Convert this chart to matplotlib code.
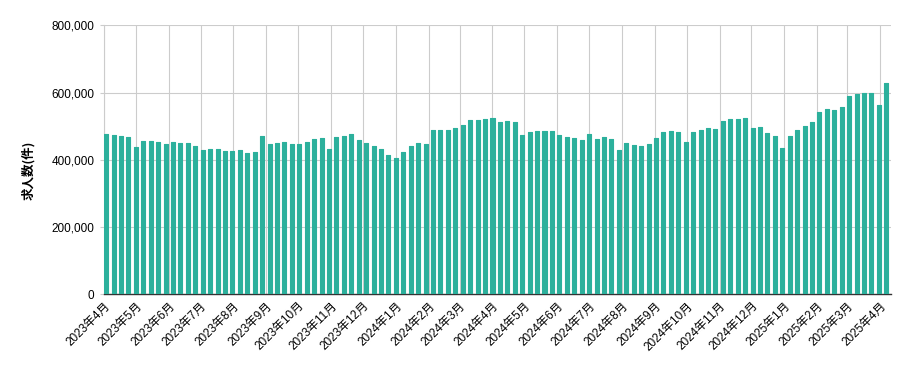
import matplotlib
matplotlib.use("Agg")
import matplotlib.pyplot as plt
from matplotlib.ticker import FuncFormatter
import pandas as pd

plt.rcParams['font.family'] = ['Liberation Sans', 'Noto Sans CJK JP', 'DejaVu Sans']

# ── Data ────────────────────────────────────────────────────────────────
# weekly job-posting counts, one bar per Monday
WEEKS = pd.date_range("2023-04-03", periods=106, freq="7D")
COUNTS = [
    476000, 473000, 470000, 467000, 438000, 456000, 456000, 453000, 447000, 453000,
    450000, 450000, 441000, 429000, 432000, 432000, 426000, 426000, 429000, 420000,
    423000, 470000, 447000, 450000, 453000, 447000, 447000, 453000, 462000, 465000,
    432000, 467000, 470000, 476000, 459000, 450000, 441000, 432000, 414000, 405000,
    423000, 441000, 450000, 447000, 488000, 488000, 488000, 494000, 503000, 518000,
    518000, 521000, 524000, 512000, 515000, 512000, 473000, 482000, 485000, 485000,
    485000, 473000, 467000, 465000, 459000, 476000, 462000, 467000, 462000, 429000,
    450000, 444000, 441000, 447000, 465000, 482000, 485000, 482000, 453000, 482000,
    488000, 494000, 491000, 515000, 521000, 521000, 524000, 494000, 497000, 479000,
    470000, 435000, 470000, 488000, 500000, 512000, 542000, 551000, 548000, 557000,
    591000, 596000, 599000, 599000, 563000, 628000,
]
MONTHS = pd.date_range("2023-04-01", "2025-04-01", freq="MS")
Y_TICKS = [0, 200000, 400000, 600000, 800000]

BAR_COLOR = "#2cb09c"
GRID_COLOR = "#cccccc"

# ── Plot ────────────────────────────────────────────────────────────────
fig = plt.figure(figsize=(9.09, 3.71), dpi=100)
ax = fig.add_axes([0.1144, 0.2067, 0.8653, 0.7251])

ax.bar(WEEKS, COUNTS, width=3.8, color=BAR_COLOR, edgecolor=BAR_COLOR,
       linewidth=0.8, joinstyle="round", zorder=3)

ax.set_xlim(pd.Timestamp("2023-04-01"), pd.Timestamp("2025-04-11"))
ax.set_ylim(0, 800000)

ax.set_xticks(MONTHS)
ax.set_xticklabels([f"{d.year}年{d.month}月" for d in MONTHS],
                   rotation=45, ha="right", va="top", rotation_mode="anchor",
                   fontsize=8.5)
ax.tick_params(axis="x", length=0, pad=4)

ax.set_yticks(Y_TICKS)
ax.yaxis.set_major_formatter(FuncFormatter(lambda v, _: f"{int(v):,}"))
ax.tick_params(axis="y", length=3, color=GRID_COLOR, pad=4, labelsize=8.5)

ax.grid(True, color=GRID_COLOR, linewidth=0.8, zorder=0)
ax.set_axisbelow(True)

for s in ["top", "right"]:
    ax.spines[s].set_visible(False)
ax.spines["left"].set_color(GRID_COLOR)
ax.spines["left"].set_linewidth(0.8)
ax.spines["bottom"].set_color("#333333")
ax.spines["bottom"].set_linewidth(1.0)

ax.set_ylabel("求人数(件)", fontsize=9, fontweight="bold",
              family=['Noto Sans CJK JP', 'DejaVu Sans'])
ax.yaxis.set_label_coords(-0.088, 0.46)

fig.savefig("out.png", dpi=100)
